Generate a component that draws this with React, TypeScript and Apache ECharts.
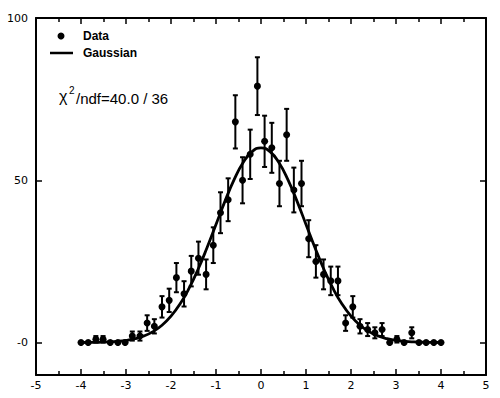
import React, { useEffect, useRef } from "react";
import * as echarts from "echarts";

// Histogram bin centres
const xs = [
  -4.0, -3.84, -3.67, -3.51, -3.35, -3.18, -3.02, -2.86, -2.69, -2.53,
  -2.37, -2.2, -2.04, -1.88, -1.71, -1.55, -1.39, -1.22, -1.06, -0.9,
  -0.73, -0.57, -0.41, -0.24, -0.08, 0.08, 0.24, 0.41, 0.57, 0.73,
  0.9, 1.06, 1.22, 1.39, 1.55, 1.71, 1.88, 2.04, 2.2, 2.37,
  2.53, 2.69, 2.86, 3.02, 3.18, 3.35, 3.51, 3.67, 3.84, 4.0,
];
// Counts
const counts = [
  0, 0, 1, 1, 0, 0, 0, 2, 2, 6,
  5, 11, 13, 20, 15, 22, 26, 21, 30, 40,
  44, 68, 50, 58, 79, 62, 60, 49, 64, 47,
  49, 32, 25, 21, 19, 19, 6, 11, 5, 4,
  3, 4, 0, 1, 0, 3, 0, 0, 0, 0,
];
// Error bar half-lengths
const errs = [
  0, 0, 1, 1, 0, 0, 0, 1.4, 1.4, 2.4,
  2.2, 3.3, 3.6, 4.5, 3.9, 4.7, 5.1, 4.6, 5.5, 6.3,
  6.6, 8.2, 7.1, 7.6, 8.9, 7.9, 7.7, 7.0, 8.0, 6.9,
  7.0, 5.7, 5.0, 4.6, 4.4, 4.4, 2.4, 3.3, 2.2, 2.0,
  1.7, 2.0, 0, 1, 0, 1.7, 0, 0, 0, 0,
];
// Fitted Gaussian curve, read at steps of 0.2
const curveX = [
  -4.0, -3.8, -3.6, -3.4, -3.2, -3.0, -2.8, -2.6, -2.4, -2.2, -2.0,
  -1.8, -1.6, -1.4, -1.2, -1.0, -0.8, -0.6, -0.4, -0.2, 0.0,
  0.2, 0.4, 0.6, 0.8, 1.0, 1.2, 1.4, 1.6, 1.8, 2.0,
  2.2, 2.4, 2.6, 2.8, 3.0, 3.2, 3.4, 3.6, 3.8, 4.0,
];
const curveY = [
  0.02, 0.04, 0.09, 0.19, 0.36, 0.67, 1.19, 2.04, 3.37, 5.33, 8.12,
  11.87, 16.68, 22.52, 29.21, 36.39, 43.57, 50.12, 55.39, 58.81, 60.0,
  58.81, 55.39, 50.12, 43.57, 36.39, 29.21, 22.52, 16.68, 11.87, 8.12,
  5.33, 3.37, 2.04, 1.19, 0.67, 0.36, 0.19, 0.09, 0.04, 0.02,
];
const yTickValues = [0, 50, 100];
const legendLabels = ["Data", "Gaussian"];
const fitText = "/ndf=40.0 / 36";

const FONT = "'Liberation Sans', Arial, sans-serif";
const AXFONT = "'DejaVu Sans', sans-serif";

export default function App() {
  const ref = useRef<HTMLDivElement>(null);
  useEffect(() => {
    document.body.style.margin = "0";
    if (!ref.current) return;
    const chart = echarts.init(ref.current, undefined, { renderer: "svg" });

    const pts = xs.map((x, i) => [x, counts[i]]);
    const bars = xs.map((x, i) => [x, counts[i], errs[i]]);
    const curve = curveX.map((x, i) => [x, curveY[i]]);

    const lineAx = { show: true, onZero: false, lineStyle: { color: "#000", width: 2 } };

    const xBase = {
      type: "value" as const,
      min: -5,
      max: 5,
      interval: 1,
      axisLine: lineAx,
      splitLine: { show: false },
      axisTick: { show: true, inside: true, length: 6, lineStyle: { color: "#000", width: 1.5 } },
      minorTick: { show: true, splitNumber: 2, length: 4, lineStyle: { color: "#000", width: 1.5 } },
    };
    const yBase = {
      type: "value" as const,
      min: -10,
      max: 100,
      interval: 10,
      axisLine: lineAx,
      splitLine: { show: false },
      axisTick: {
        show: true,
        inside: true,
        length: 6,
        customValues: yTickValues,
        lineStyle: { color: "#000", width: 1.5 },
      },
    };

    chart.setOption({
      animation: false,
      backgroundColor: "#fff",
      grid: { left: 36, right: 14, top: 18, bottom: 23 },
      xAxis: [
        {
          ...xBase,
          position: "bottom",
          axisLabel: { color: "#000", fontSize: 11, fontFamily: AXFONT, margin: 5 },
        },
        { ...xBase, position: "top", axisLabel: { show: false } },
      ],
      yAxis: [
        {
          ...yBase,
          position: "left",
          axisLabel: {
            color: "#000",
            fontSize: 11,
            fontFamily: AXFONT,
            margin: 8,
            customValues: yTickValues,
            formatter: (v: number) => (v === 0 ? "-0" : String(v)),
          },
        },
        { ...yBase, position: "right", axisLabel: { show: false } },
      ],
      series: [
        {
          type: "line",
          data: curve,
          smooth: true,
          showSymbol: false,
          lineStyle: { color: "#000", width: 2.8 },
          z: 3,
        },
        {
          type: "custom",
          data: bars,
          z: 4,
          renderItem: (params: any, api: any) => {
            const x = api.value(0);
            const y = api.value(1);
            const e = api.value(2);
            if (!e) return { type: "group", children: [] };
            const top = api.coord([x, y + e]);
            const bot = api.coord([x, y - e]);
            const cw = 2.5;
            const st = { stroke: "#000", lineWidth: 2 };
            return {
              type: "group",
              children: [
                { type: "line", shape: { x1: top[0], y1: top[1], x2: bot[0], y2: bot[1] }, style: st },
                { type: "line", shape: { x1: top[0] - cw, y1: top[1], x2: top[0] + cw, y2: top[1] }, style: st },
                { type: "line", shape: { x1: bot[0] - cw, y1: bot[1], x2: bot[0] + cw, y2: bot[1] }, style: st },
              ],
            };
          },
        },
        {
          type: "scatter",
          data: pts,
          symbol: "circle",
          symbolSize: 7,
          itemStyle: { color: "#000", opacity: 1 },
          z: 5,
        },
      ],
      graphic: [
        { type: "circle", shape: { cx: 61, cy: 36, r: 3.5 }, style: { fill: "#000" } },
        { type: "line", shape: { x1: 50, y1: 53, x2: 73, y2: 53 }, style: { stroke: "#000", lineWidth: 2.5 } },
        {
          type: "text",
          x: 83,
          y: 36,
          style: { text: legendLabels[0], font: `bold 12px ${FONT}`, fill: "#000", verticalAlign: "middle" },
        },
        {
          type: "text",
          x: 83,
          y: 53,
          style: { text: legendLabels[1], font: `bold 12px ${FONT}`, fill: "#000", verticalAlign: "middle" },
        },
        {
          type: "text",
          x: 59,
          y: 96,
          style: { text: "χ", font: `16px ${FONT}`, fill: "#000", verticalAlign: "middle" },
        },
        {
          type: "text",
          x: 69,
          y: 90,
          style: { text: "2", font: `10px ${FONT}`, fill: "#000", verticalAlign: "middle" },
        },
        {
          type: "text",
          x: 76,
          y: 98,
          style: { text: fitText, font: `15px ${FONT}`, fill: "#000", verticalAlign: "middle" },
        },
      ],
    });
    return () => chart.dispose();
  }, []);
  return <div ref={ref} style={{ width: 500, height: 398 }} />;
}
